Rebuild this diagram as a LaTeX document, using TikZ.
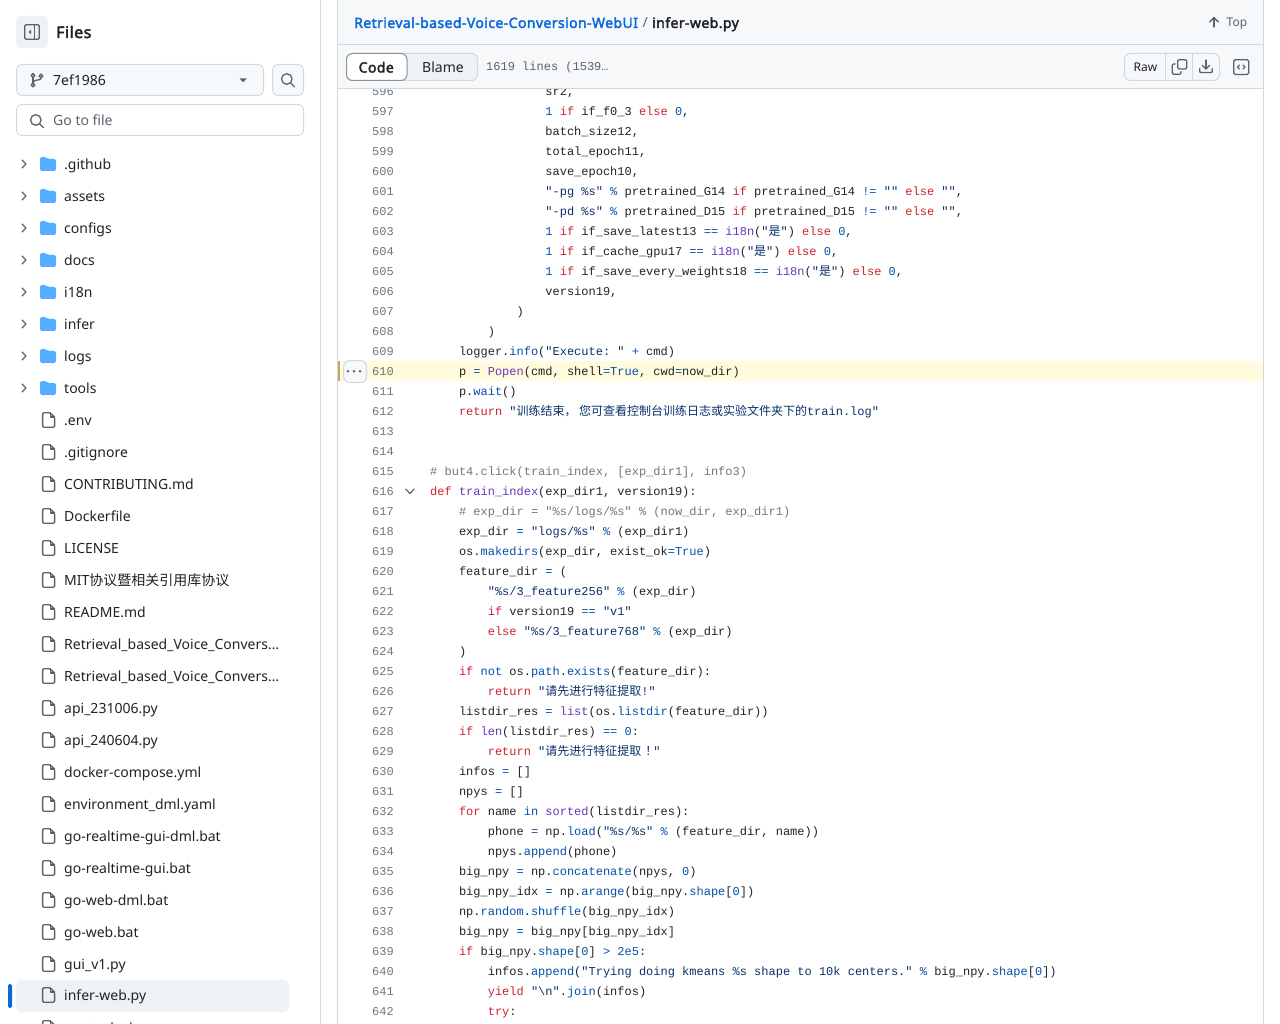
\documentclass[tikz,border=0pt]{standalone}
\usepackage{fontspec}
\setmainfont{Noto Sans}[BoldFont={Noto Sans},BoldFeatures={FakeBold=2.5,LetterSpace=3}]
\setmonofont{Liberation Mono}
\newfontfamily\cjkf{Noto Sans CJK SC}
\definecolor{ink}{HTML}{1F2328}
\definecolor{muted}{HTML}{59636E}
\definecolor{lnum}{HTML}{6E7781}
\definecolor{edge}{HTML}{D1D9E0}
\definecolor{panel}{HTML}{F6F8FA}
\definecolor{soft}{HTML}{EFF2F5}
\definecolor{linkblue}{HTML}{0969DA}
\definecolor{folderblue}{HTML}{54AEFF}
\definecolor{kwc}{HTML}{CF222E}
\definecolor{strc}{HTML}{0A3069}
\definecolor{numc}{HTML}{0550AE}
\definecolor{fnc}{HTML}{6639BA}
\definecolor{hl}{HTML}{FFFBDC}
\definecolor{hlbar}{HTML}{C8A75F}
\newcommand\tkw[1]{\textcolor{kwc}{#1}}
\newcommand\tstr[1]{\textcolor{strc}{#1}}
\newcommand\tnum[1]{\textcolor{numc}{#1}}
\newcommand\tfn[1]{\textcolor{fnc}{#1}}
\newcommand\tcom[1]{\textcolor{lnum}{#1}}
\newcommand\cj[1]{{\cjkf #1}}
\newcommand\codeline[3]{%
  \pgfmathsetmacro\yy{95.4+20*(#1-596)}%
  \pgfmathsetmacro\xx{430+7.2*#2}%
  \node[lno] (ln#1) at (394,\yy) {#1};
  \node[codetxt] (code#1) at (\xx,\yy) {#3};
}
\newcommand\numline[1]{%
  \pgfmathsetmacro\yy{95.4+20*(#1-596)}%
  \node[lno] (ln#1) at (394,\yy) {#1};
}
\newcommand\folderrow[2]{%
  \draw[chev] (22,#1-4) -- (26,#1) -- (22,#1+4);
  \pic at (48,#1) {folderic};
  \node[sidetxt] (dir#1) at (64,#1+5.4) {#2};
}
\newcommand\filerow[2]{%
  \pic at (48.6,#1) {fileic};
  \node[sidetxt] (file#1) at (64,#1+5.4) {#2};
}
\tikzset{
  x=1pt, y=-1pt,
  lno/.style={anchor=base east, inner sep=0, text=lnum, font=\fontsize{12}{14}\selectfont\ttfamily},
  codetxt/.style={anchor=base west, inner sep=0, text=ink, font=\fontsize{12}{14}\selectfont\ttfamily},
  sidetxt/.style={anchor=base west, inner sep=0, text=ink, font=\fontsize{14}{16}\selectfont},
  chev/.style={draw=muted, line width=1.4pt, line cap=round, line join=round},
  iconline/.style={draw=muted, line width=1.3pt, line cap=round, line join=round},
  btn/.style={draw=edge, line width=1pt, fill=panel, rounded corners=6pt},
  folderic/.pic={
    \fill[folderblue, rounded corners=1.6pt] (-8,-7) -- (-2.5,-7) -- (0,-5) -- (8,-5) -- (8,7) -- (-8,7) -- cycle;
  },
  fileic/.pic={
    \draw[iconline, rounded corners=1.2pt] (-6,-7.2) -- (1.6,-7.2) -- (6,-2.8) -- (6,7.2) -- (-6,7.2) -- cycle;
    \draw[iconline] (1.6,-7.2) -- (1.6,-3) -- (6,-3);
  }
}
\begin{document}
\begin{tikzpicture}
\clip (0,0) rectangle (1280,1024);
\fill[white] (0,0) rectangle (1280,1024);

% ---------- sidebar ----------
\draw[edge, line width=1pt] (320.5,0) -- (320.5,1024);
\fill[soft, rounded corners=6pt] (16,16) rectangle (48,48);
\draw[iconline, rounded corners=1.5pt] (24.7,24.7) rectangle (39.3,39.3);
\draw[iconline] (34.5,24.7) -- (34.5,39.3);
\fill[muted] (31,29.5) -- (31,34.5) -- (28.6,32) -- cycle;
\node[sidetxt, font=\fontsize{16}{18}\selectfont\bfseries] (filestitle) at (56,38) {Files};

\draw[btn] (16.5,64.5) rectangle (263.5,95.5);
\draw[iconline] (33,77.5) -- (33,83);
\draw[iconline] (33,75.5) circle[radius=1.9];
\draw[iconline] (33,85) circle[radius=1.9];
\draw[iconline] (41,76) circle[radius=1.9];
\draw[iconline] (41,78) .. controls (41,81) and (35,79) .. (33,82);
\node[sidetxt] (branch) at (53,85.4) {7ef1986};
\fill[muted] (239.5,78.3) -- (246.8,78.3) -- (243.1,82.4) -- cycle;
\draw[btn] (272.5,64.5) rectangle (303.5,95.5);
\draw[iconline] (286.8,79) circle[radius=5.3];
\draw[iconline] (290.7,82.9) -- (294.6,86.8);
\draw[btn, fill=white] (16.5,104.5) rectangle (303.5,135.5);
\draw[iconline] (35.8,120) circle[radius=5.3];
\draw[iconline] (39.7,123.9) -- (43.3,127.5);
\node[sidetxt, text=muted] (goto) at (53,125.4) {Go to file};

\folderrow{164}{.github}
\folderrow{196}{assets}
\folderrow{228}{configs}
\folderrow{260}{docs}
\folderrow{292}{i18n}
\folderrow{324}{infer}
\folderrow{356}{logs}
\folderrow{388}{tools}
\filerow{420}{.env}
\filerow{452}{.gitignore}
\filerow{484}{CONTRIBUTING.md}
\filerow{516}{Dockerfile}
\filerow{548}{LICENSE}
\filerow{580}{MIT\cj{协议暨相关引用库协议}}
\filerow{612}{README.md}
\filerow{644}{Retrieval\_based\_Voice\_Convers…}
\filerow{676}{Retrieval\_based\_Voice\_Convers…}
\filerow{708}{api\_231006.py}
\filerow{740}{api\_240604.py}
\filerow{772}{docker-compose.yml}
\filerow{804}{environment\_dml.yaml}
\filerow{836}{go-realtime-gui-dml.bat}
\filerow{868}{go-realtime-gui.bat}
\filerow{900}{go-web-dml.bat}
\filerow{932}{go-web.bat}
\filerow{964}{gui\_v1.py}
\fill[soft, rounded corners=6pt] (16,980) rectangle (289,1012);
\fill[linkblue, rounded corners=2pt] (8,984) rectangle (12,1008);
\filerow{995}{infer-web.py}
\filerow{1028}{poetry.lock}

% ---------- code panel ----------
\fill[hl] (340,361) rectangle (1263,381);
\fill[hlbar] (338,361) rectangle (340,381);

\codeline{596}{16}{sr2,}
\codeline{597}{16}{\tnum{1} \tkw{if} if\_f0\_3 \tkw{else} \tnum{0},}
\codeline{598}{16}{batch\_size12,}
\codeline{599}{16}{total\_epoch11,}
\codeline{600}{16}{save\_epoch10,}
\codeline{601}{16}{\tstr{"-pg \%s"} \tnum{\%} pretrained\_G14 \tkw{if} pretrained\_G14 \tnum{!=} \tstr{""} \tkw{else} \tstr{""},}
\codeline{602}{16}{\tstr{"-pd \%s"} \tnum{\%} pretrained\_D15 \tkw{if} pretrained\_D15 \tnum{!=} \tstr{""} \tkw{else} \tstr{""},}
\codeline{603}{16}{\tnum{1} \tkw{if} if\_save\_latest13 \tnum{==} \tfn{i18n}(\tstr{"\cj{是}"}) \tkw{else} \tnum{0},}
\codeline{604}{16}{\tnum{1} \tkw{if} if\_cache\_gpu17 \tnum{==} \tfn{i18n}(\tstr{"\cj{是}"}) \tkw{else} \tnum{0},}
\codeline{605}{16}{\tnum{1} \tkw{if} if\_save\_every\_weights18 \tnum{==} \tfn{i18n}(\tstr{"\cj{是}"}) \tkw{else} \tnum{0},}
\codeline{606}{16}{version19,}
\codeline{607}{12}{)}
\codeline{608}{8}{)}
\codeline{609}{4}{logger.\tnum{info}(\tstr{"Execute: "} \tnum{+} cmd)}
\codeline{610}{4}{p \tnum{=} \tfn{Popen}(cmd, shell\tnum{=True}, cwd\tnum{=}now\_dir)}
\codeline{611}{4}{p.\tnum{wait}()}
\codeline{612}{4}{\tkw{return} \tstr{"\cj{训练结束，\kern2.4pt 您可查看控制台训练日志或实验文件夹下的}train.log"}}
\numline{613}
\numline{614}
\codeline{615}{0}{\tcom{\# but4.click(train\_index, [exp\_dir1], info3)}}
\codeline{616}{0}{\tkw{def} \tfn{train\_index}(exp\_dir1, version19):}
\codeline{617}{4}{\tcom{\# exp\_dir = "\%s/logs/\%s" \% (now\_dir, exp\_dir1)}}
\codeline{618}{4}{exp\_dir \tnum{=} \tstr{"logs/\%s"} \tnum{\%} (exp\_dir1)}
\codeline{619}{4}{os.\tnum{makedirs}(exp\_dir, exist\_ok\tnum{=True})}
\codeline{620}{4}{feature\_dir \tnum{=} (}
\codeline{621}{8}{\tstr{"\%s/3\_feature256"} \tnum{\%} (exp\_dir)}
\codeline{622}{8}{\tkw{if} version19 \tnum{==} \tstr{"v1"}}
\codeline{623}{8}{\tkw{else} \tstr{"\%s/3\_feature768"} \tnum{\%} (exp\_dir)}
\codeline{624}{4}{)}
\codeline{625}{4}{\tkw{if} \tnum{not} os.\tnum{path}.\tnum{exists}(feature\_dir):}
\codeline{626}{8}{\tkw{return} \tstr{"\cj{请先进行特征提取}!"}}
\codeline{627}{4}{listdir\_res \tnum{=} \tfn{list}(os.\tnum{listdir}(feature\_dir))}
\codeline{628}{4}{\tkw{if} \tfn{len}(listdir\_res) \tnum{== 0}:}
\codeline{629}{8}{\tkw{return} \tstr{"\cj{请先进行特征提取\kern4pt ！\kern-4pt }"}}
\codeline{630}{4}{infos \tnum{=} []}
\codeline{631}{4}{npys \tnum{=} []}
\codeline{632}{4}{\tkw{for} name \tnum{in} \tfn{sorted}(listdir\_res):}
\codeline{633}{8}{phone \tnum{=} np.\tnum{load}(\tstr{"\%s/\%s"} \tnum{\%} (feature\_dir, name))}
\codeline{634}{8}{npys.\tnum{append}(phone)}
\codeline{635}{4}{big\_npy \tnum{=} np.\tnum{concatenate}(npys, \tnum{0})}
\codeline{636}{4}{big\_npy\_idx \tnum{=} np.\tnum{arange}(big\_npy.\tnum{shape}[\tnum{0}])}
\codeline{637}{4}{np.\tnum{random}.\tnum{shuffle}(big\_npy\_idx)}
\codeline{638}{4}{big\_npy \tnum{=} big\_npy[big\_npy\_idx]}
\codeline{639}{4}{\tkw{if} big\_npy.\tnum{shape}[\tnum{0}] \tnum{> 2e5}:}
\codeline{640}{8}{infos.\tnum{append}(\tstr{"Trying doing kmeans \%s shape to 10k centers."} \tnum{\%} big\_npy.\tnum{shape}[\tnum{0}])}
\codeline{641}{8}{\tkw{yield} \tstr{"\textbackslash{}n"}.\tnum{join}(infos)}
\codeline{642}{8}{\tkw{try}:}

% hover button and fold chevron
\draw[btn] (343.7,360.5) rectangle (366.5,382.7);
\foreach \dx in {348,354,360} \fill[muted] (\dx,371.3) circle[radius=1.4];
\draw[chev, line width=1.2pt] (405.7,489) -- (410,493.5) -- (414.3,489);

% ---------- panel header ----------
\fill[panel] (338,0) rectangle (1263,89);
\draw[edge, line width=1pt] (337.7,0) -- (337.7,1024);
\draw[edge, line width=1pt] (1263.3,0) -- (1263.3,1024);
\draw[edge, line width=1pt] (338,44.5) -- (1263,44.5);
\draw[edge, line width=1pt] (338,89) -- (1263,89);

\node[sidetxt, text=linkblue, font=\fontsize{14}{16}\selectfont\bfseries] (repo) at (354,27.9) {Retrieval-based-Voice-Conversion-WebUI};
\node[sidetxt, text=muted] (slash) at (642.5,27.9) {/};
\node[sidetxt, font=\fontsize{14}{16}\selectfont\bfseries] (fname) at (652,27.9) {infer-web.py};
\draw[iconline] (1214,27) -- (1214,17.6);
\draw[iconline] (1209.6,22) -- (1214,17.6) -- (1218.4,22);
\node[sidetxt, text=muted, font=\fontsize{12}{14}\selectfont] (toplink) at (1226.5,26.3) {Top};

\draw[btn, fill=soft] (346.5,53.5) rectangle (477.5,80.5);
\draw[draw=lnum!80, line width=1pt, fill=white, rounded corners=6pt] (346.5,53.5) rectangle (407,80.5);
\node[sidetxt, font=\fontsize{14}{16}\selectfont\bfseries] (codetab) at (358.5,72.5) {Code};
\node[sidetxt] (blametab) at (422,72.5) {Blame};
\node[codetxt, text=muted] (linesinfo) at (486,70.4) {1619 lines (1539…};

\draw[btn] (1124.5,53.5) rectangle (1219.5,80.5);
\draw[edge, line width=1pt] (1165.5,53.5) -- (1165.5,80.5);
\draw[edge, line width=1pt] (1192.5,53.5) -- (1192.5,80.5);
\node[sidetxt, font=\fontsize{12}{14}\selectfont] (rawbtn) at (1133.5,71.5) {Raw};
\draw[iconline, rounded corners=1.3pt] (1177.7,59.7) rectangle (1186.7,69);
\draw[iconline, rounded corners=1.3pt] (1175.2,64) -- (1172.2,64) -- (1172.2,74.3) -- (1181,74.3) -- (1181,71.5);
\draw[iconline] (1206,60) -- (1206,69);
\draw[iconline] (1202.3,65.3) -- (1206,69) -- (1209.7,65.3);
\draw[iconline, rounded corners=1pt] (1199.7,68.5) -- (1199.7,72.6) -- (1212.3,72.6) -- (1212.3,68.5);
\draw[iconline, rounded corners=1.5pt] (1233.7,59.7) rectangle (1248.7,74.5);
\draw[iconline, line width=1.1pt] (1239.5,65) -- (1237.5,67) -- (1239.5,69);
\draw[iconline, line width=1.1pt] (1243,65) -- (1245,67) -- (1243,69);
\end{tikzpicture}
\end{document}
